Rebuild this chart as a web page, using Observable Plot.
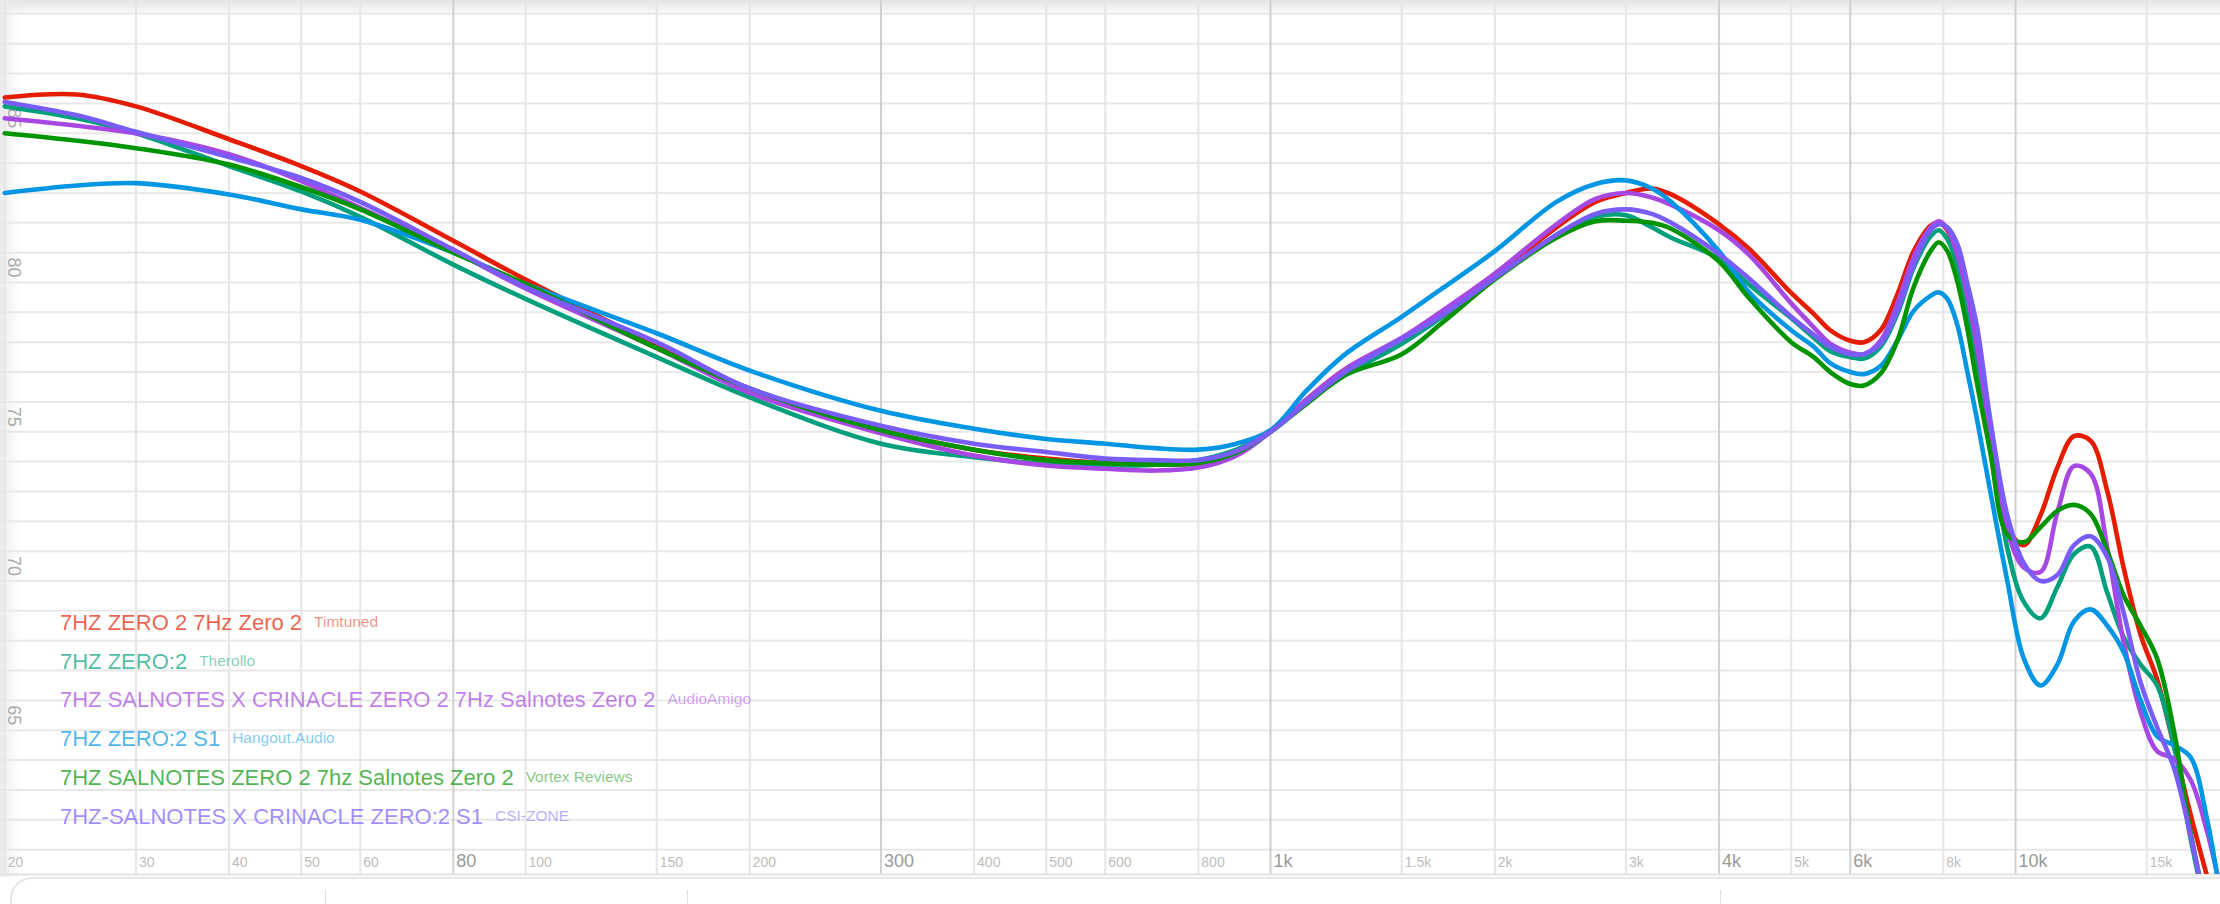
<!DOCTYPE html>
<html>
<head>
<meta charset="utf-8">
<script src="https://cdn.jsdelivr.net/npm/d3@7"></script>
<script src="https://cdn.jsdelivr.net/npm/@observablehq/plot@0.6"></script>
<style>
  html, body { margin: 0; padding: 0; background: #fff; overflow: hidden; }
  #wrap { position: relative; width: 2220px; height: 904px; overflow: hidden; font-family: "Liberation Sans", Arial, sans-serif; }
  #shadeTop { position: absolute; left: 0; top: 0; width: 2220px; height: 16px; background: linear-gradient(#e4e4e4, rgba(255,255,255,0)); }
  #shadeLeft { position: absolute; left: 0; top: 0; width: 20px; height: 877px; background: linear-gradient(to right, #ebebeb, rgba(255,255,255,0)); }
  #chart { position: absolute; left: 0; top: 0; }
  #panel { position: absolute; left: 10px; top: 877px; width: 2400px; height: 80px; border-top: 2px solid #e6e6e6; border-left: 2px solid #e6e6e6; border-top-left-radius: 22px; background: #fff; }
  .sep { position: absolute; top: 890px; width: 1px; height: 20px; background: #e0e0e0; }
</style>
</head>
<body>
<div id="wrap">
  <div id="shadeTop"></div>
  <div id="shadeLeft"></div>
  <div id="chart"></div>
  <div id="panel"></div>
  <div class="sep" style="left:325px"></div>
  <div class="sep" style="left:687px"></div>
  <div class="sep" style="left:1720px"></div>
</div>
<script>
// ---------- data ----------
const freqs = [20, 25, 30, 40, 50, 60, 80, 100, 150, 200,
  300, 400, 500, 600, 700, 800, 900, 1000,
  1120, 1260, 1500, 1700, 2000,
  2420, 2730, 3000, 3250, 3450,
  4000, 4380, 5000, 5360, 5640,
  6000, 6260, 6590, 6940, 7300,
  7690, 7890, 8100, 8350, 8610,
  8880, 9250, 9750, 10260, 10800,
  11380, 11980, 12610, 13280, 13980,
  14720, 15490, 16310, 17170, 18080,
  19000, 20000];

const zero2Timtuned = [86.2, 86.3, 85.9, 84.8, 83.9, 83.05, 81.4, 80.1, 77.9, 76.4,
  75.05, 74.4, 74.1, 73.95, 73.9, 73.95, 74.3, 75.0,
  76.1, 77.1, 78.1, 78.95, 80.2,
  81.85, 82.7, 83.0, 83.15, 82.95,
  81.95, 81.15, 79.65, 78.95, 78.4,
  78.05, 78.0, 78.4, 79.6, 81.05,
  81.9, 82.0, 81.75, 80.85, 79.4,
  77.6, 74.6, 71.8, 71.2, 72.2,
  73.8, 74.85, 74.7, 73.0, 70.4,
  68.2, 66.7, 64.5, 62.2, 60.1,
  58.2, 56.3];

const zero2Therollo = [85.9, 85.5, 85.0, 83.9, 83.05, 82.2, 80.6, 79.45, 77.5, 76.15,
  74.6, 74.15, 73.93, 73.87, 73.9, 74.05, 74.4, 75.0,
  76.0, 76.9, 77.95, 78.85, 80.15,
  81.55, 82.2, 82.25, 81.85, 81.5,
  80.8, 79.95, 78.8, 78.15, 77.7,
  77.5, 77.45, 77.85, 78.95, 80.5,
  81.55, 81.75, 81.45, 80.6, 79.15,
  77.4, 74.7, 71.1, 69.3, 68.75,
  69.8, 70.9, 71.15, 69.6, 68.1,
  67.2, 66.5, 64.5, 61.4, 58.8,
  56.5, 54.5];

const salnotesCrinacleAudioAmigo = [85.5, 85.25, 85.0, 84.3, 83.4, 82.5, 81.05, 79.8, 77.8, 76.3,
  74.95, 74.2, 73.87, 73.76, 73.7, 73.8, 74.2, 75.0,
  76.1, 77.1, 78.15, 79.05, 80.3,
  81.95, 82.8, 83.0, 82.85, 82.6,
  81.75, 80.95, 79.3, 78.5, 77.95,
  77.65, 77.6, 78.05, 79.3, 80.85,
  81.85, 82.05, 81.8, 80.95, 79.6,
  77.85, 75.0, 71.7, 70.45, 70.3,
  72.3, 73.85, 73.6, 71.1, 67.9,
  65.6, 64.3, 64.05, 63.35, 61.6,
  59.3, 57.0];

const zero2S1Hangout = [83.0, 83.25, 83.33, 82.95, 82.45, 82.1, 81.0, 79.95, 78.3, 77.05,
  75.7, 75.1, 74.76, 74.6, 74.45, 74.4, 74.6, 75.05,
  76.4, 77.6, 78.85, 79.8, 81.05,
  82.7, 83.3, 83.42, 83.15, 82.7,
  81.05, 79.7, 78.4, 77.85, 77.3,
  77.0, 76.93, 77.2, 78.05, 79.05,
  79.55, 79.67, 79.45, 78.6, 77.05,
  75.4, 73.0, 70.0, 67.4, 66.5,
  67.2, 68.65, 69.05, 68.5, 67.6,
  66.0, 64.8, 64.5, 64.1, 62.0,
  59.0, 56.5];

const salnotesVortex = [85.0, 84.75, 84.5, 83.95, 83.2, 82.45, 81.0, 79.95, 77.8, 76.45,
  75.05, 74.4, 74.05, 73.95, 73.9, 73.95, 74.3, 75.0,
  75.95, 76.9, 77.6, 78.65, 80.1,
  81.5, 82.05, 82.07, 82.0, 81.8,
  80.7, 79.5, 78.0, 77.5, 77.0,
  76.6, 76.55, 76.95, 78.05, 79.85,
  81.05, 81.35, 81.05, 80.05, 78.5,
  76.6, 74.3, 71.55, 71.3, 71.8,
  72.35, 72.55, 72.25, 71.0, 69.5,
  68.5, 67.4, 65.0, 61.6, 58.9,
  56.5, 54.5];

const salnotesCrinacleS1CsiZone = [86.05, 85.6, 85.05, 84.2, 83.5, 82.7, 81.1, 79.85, 78.0, 76.45,
  75.2, 74.6, 74.32, 74.1, 74.05, 74.05, 74.35, 75.0,
  76.0, 77.0, 78.1, 78.9, 80.15,
  81.6, 82.3, 82.45, 82.3, 82.0,
  80.95, 80.15, 78.85, 78.25, 77.85,
  77.6, 77.6, 77.95, 79.05, 80.6,
  81.75, 81.95, 81.85, 81.3, 80.0,
  78.5, 75.4, 72.2, 70.6, 70.0,
  70.2, 71.2, 71.5, 70.8, 68.9,
  66.6, 65.1, 63.75, 61.5, 58.8,
  56.3, 54.0];

const seriesNames = [
  "7HZ ZERO 2 7Hz Zero 2",
  "7HZ ZERO:2",
  "7HZ SALNOTES X CRINACLE ZERO 2 7Hz Salnotes Zero 2",
  "7HZ ZERO:2 S1",
  "7HZ SALNOTES ZERO 2 7hz Salnotes Zero 2",
  "7HZ-SALNOTES X CRINACLE ZERO:2 S1"
];
const seriesSources = ["Timtuned", "Therollo", "AudioAmigo", "Hangout.Audio", "Vortex Reviews", "CSI-ZONE"];
const seriesColors = ["#e41c00", "#00a07c", "#a848e2", "#0096e4", "#009400", "#7a5cfa"];
const seriesValues = [zero2Timtuned, zero2Therollo, salnotesCrinacleAudioAmigo, zero2S1Hangout, salnotesVortex, salnotesCrinacleS1CsiZone];

const dbGrid = d3.range(61, 90);
const yTickLabels = [65, 70, 75, 80, 85];
const minorTicks = [20, 30, 40, 50, 60, 100, 150, 200, 400, 500, 600, 800, 1500, 2000, 3000, 5000, 8000, 15000];
const majorTicks = [80, 300, 1000, 4000, 6000, 10000];
const fmtHz = f => f >= 1000 ? (f / 1000) + "k" : String(f);

// ---------- table ----------
const rows = [];
seriesValues.forEach((vals, s) => vals.forEach((v, i) => rows.push({s, f: freqs[i], db: v})));

const FONT = '"Liberation Sans", Arial, sans-serif';

function legend(index, scales, values, dims) {
  const g = d3.create("svg:g").attr("font-family", FONT).attr("text-anchor", "start");
  seriesNames.forEach((name, i) => {
    const t = g.append("text").attr("x", 60).attr("y", 630 + i * 38.7).attr("text-anchor", "start");
    t.append("tspan").attr("font-size", 22).attr("fill", seriesColors[i]).attr("fill-opacity", 0.7).text(name);
    t.append("tspan").attr("dx", 12).attr("dy", -3).attr("font-size", 15.5)
      .attr("fill", seriesColors[i]).attr("fill-opacity", 0.5).text(seriesSources[i]);
  });
  return g.node();
}

const chart = Plot.plot({
  width: 2220,
  height: 877,
  marginLeft: 0, marginRight: 0, marginTop: 0, marginBottom: 3,
  style: {background: "transparent", fontFamily: FONT, overflow: "visible"},
  x: {type: "log", domain: [20, 20000], range: [4.3, 2239.3], axis: null},
  y: {domain: [60, 90], range: [879, -16.5], axis: null},
  marks: [
    Plot.ruleY(dbGrid, {stroke: "#e8e8e8", strokeWidth: 2}),
    Plot.ruleX(minorTicks, {stroke: "#e6e6e6", strokeWidth: 2}),
    Plot.ruleX(majorTicks, {stroke: "#d0d0d0", strokeWidth: 2}),
    Plot.frame({anchor: "bottom", stroke: "#e2e2e2", strokeWidth: 2}),
    Plot.text(minorTicks, {x: d => d, frameAnchor: "bottom", text: fmtHz, textAnchor: "start", lineAnchor: "bottom",
      dx: 3, dy: -8, fontSize: 14, fill: "#bdbdbd"}),
    Plot.text(majorTicks, {x: d => d, frameAnchor: "bottom", text: fmtHz, textAnchor: "start", lineAnchor: "bottom",
      dx: 3, dy: -8, fontSize: 18, fill: "#9a9a9a"}),
    Plot.text(yTickLabels, {y: d => d, frameAnchor: "left", text: d => String(d), rotate: 90, textAnchor: "end",
      lineAnchor: "bottom", dx: 7, dy: -5, fontSize: 18, fill: "#ababab"}),
    ...seriesValues.map((_, s) => Plot.line(rows.filter(r => r.s === s), {
      x: "f", y: "db", stroke: seriesColors[s], strokeWidth: 4.6, curve: "catmull-rom", clip: true
    })),
    legend
  ]
});
document.getElementById("chart").appendChild(chart);
</script>
</body>
</html>
